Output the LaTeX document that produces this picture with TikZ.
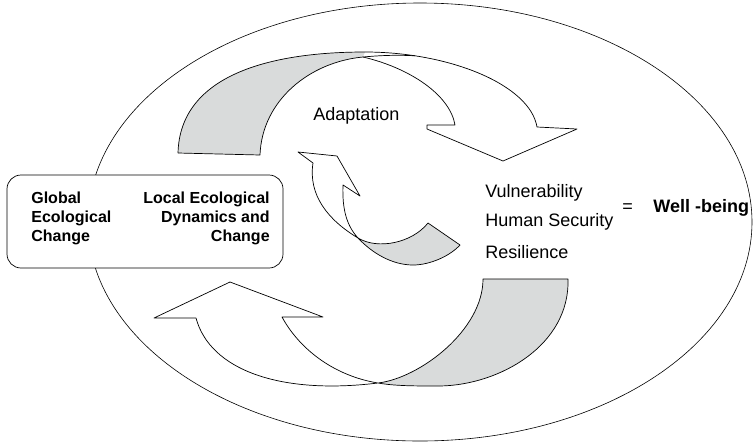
\documentclass[tikz,border=0pt]{standalone}
\usepackage{fontspec}
\setmainfont{Liberation Sans}
\definecolor{ribbongrey}{RGB}{217, 219, 219}
\usetikzlibrary{positioning}

\begin{document}
\begin{tikzpicture}[x=1pt, y=-1pt, line width=0.7pt, line join=round,
    lbl/.style={font=\fontsize{18}{21}\selectfont, inner sep=0pt},
    boxlbl/.style={font=\bfseries\fontsize{16}{19}\selectfont, inner sep=0pt}]
  \useasboundingbox (0,0) rectangle (754,445);

  % Outer ellipse
  \draw[line width=0.6pt] (420,222) ellipse [x radius=332, y radius=219];

  % Box on the left
  \draw[rounded corners=14pt, fill=white] (7,175) rectangle (283,268);
  \node[boxlbl, anchor=north west, align=left] (global) at (31,191.5) {Global\\Ecological\\Change};
  \node[boxlbl, anchor=north east, align=right] (local) at (270,191.5) {Local Ecological\\Dynamics and\\Change};

  % Top arrow (grey back, then outline)
  \fill[ribbongrey] (260,155) .. controls (262,100) and (310,62) .. (363,57) -- (365,52)
    .. controls (270,52) and (180,75) .. (178,153) -- cycle;
  \draw (178,153) .. controls (180,75) and (270,52) .. (365,52) .. controls (450,52) and (530,85) .. (537,127)
    -- (577,129) -- (503,161) -- (427,129) -- (427,125) -- (455,125)
    .. controls (450,95) and (410,68) .. (363,57);
  \draw (178,153) -- (260,155) .. controls (262,100) and (310,62) .. (363,57)
    .. controls (385,55) and (400,55) .. (415,55.8);

  % Small arrow in the middle
  \fill[ribbongrey] (358,238) .. controls (378,250) and (412,243) .. (428,223) -- (460,245)
    .. controls (450,256) and (430,265) .. (413,265) .. controls (392,265) and (372,253) .. (358,238) -- cycle;
  \draw (460,245) -- (428,223) .. controls (412,243) and (378,250) .. (358,238)
    .. controls (328,220) and (308,195) .. (313,163) -- (298,152) -- (337,156) -- (360,196) -- (343,185)
    .. controls (342,210) and (347,226) .. (358,238) .. controls (372,253) and (392,265) .. (413,265)
    .. controls (430,265) and (450,256) .. cycle;

  % Bottom arrow
  \fill[ribbongrey] (378,383) .. controls (420,378) and (483,330) .. (483,279) -- (568,279)
    .. controls (570,345) and (500,385) .. (440,386) .. controls (415,386) and (395,386) .. (378,383) -- cycle;
  \draw (483,279) -- (568,279) .. controls (570,345) and (500,385) .. (440,386)
    .. controls (415,386) and (395,386) .. (378,383) .. controls (335,376) and (300,350) .. (282,317)
    -- (323,317) -- (230,282) -- (154,318) -- (196,318)
    .. controls (210,370) and (280,395) .. (378,383) .. controls (420,378) and (483,330) .. cycle;

  % Labels
  \node[lbl, anchor=base west] (adapt) at (313,120) {Adaptation};
  \node[lbl, anchor=base west] (vuln) at (485,197) {Vulnerability};
  \node[lbl, anchor=base west] (security) at (485,226) {Human Security};
  \node[lbl, anchor=base west] (resil) at (485,258) {Resilience};
  \node[lbl, anchor=base] (equals) at (627.5,212) {=};
  \node[lbl, anchor=base west, font=\bfseries\fontsize{18}{21}\selectfont] (wellbeing) at (653,212) {Well -being};
\end{tikzpicture}
\end{document}
